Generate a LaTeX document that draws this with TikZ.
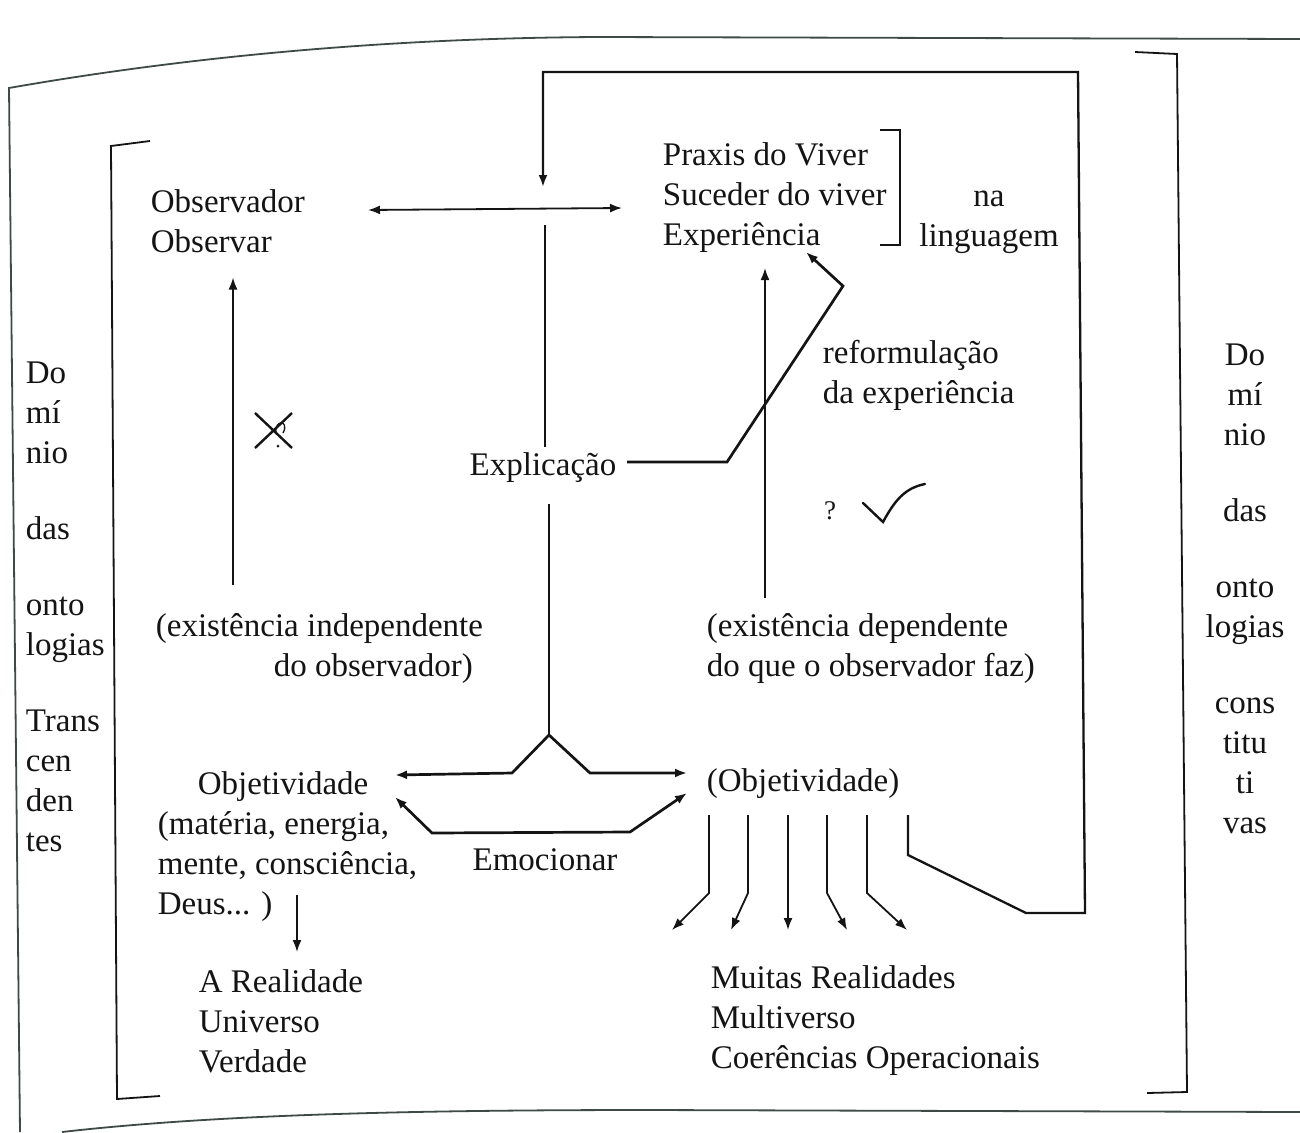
\documentclass[tikz,border=0pt]{standalone}
\usepackage{fontspec}
\setmainfont{Liberation Serif}
\usetikzlibrary{arrows.meta}
\definecolor{Paper}{HTML}{FFFFFF}
\definecolor{Ink}{HTML}{141414}
\definecolor{FrameGrey}{HTML}{3F4A46}

\begin{document}
\begin{tikzpicture}[x=1pt,y=-1pt,>={Latex[length=12pt,width=9pt]},line width=1.8pt,draw=Ink,
  every node/.style={font=\fontsize{33}{40}\selectfont,text=Ink,inner sep=0pt,align=left},
  txt/.style={anchor=west},heavy/.style={line width=2.7pt},col/.style={align=center}]
\useasboundingbox (0,0) rectangle (1300,1132); \fill[Paper] (0,0) rectangle (1300,1132);
% sheet edges and the two big brackets
\draw[FrameGrey,line width=1.8pt] (1300,39)--(600,37) .. controls (380,38) and (180,58) .. (9,88)--(20,1132);
\draw[FrameGrey,line width=1.8pt] (62,1132) .. controls (220,1114) and (420,1110) .. (650,1110)--(1300,1112);
\draw (150,141)--(111,146)--(117,1099)--(160,1096); \draw (1135,52)--(1177,54)--(1187,1092)--(1147,1093);
\draw (880,130)--(900,130)--(900,245)--(880,245);
% texts
\node[txt] (obs) at (150,221){Observador\\Observar};
\node[txt] (praxis) at (662,198){Praxis do Viver\\Suceder do viver\\Experiência};
\node[col] (lang) at (989,222){na\\linguagem};
\node[txt] (reform) at (822,375){reformulação\\da experiência};
\node (expl) at (543,468){Explicação};
\node[font=\fontsize{27}{30}\selectfont] (qm) at (830,511){?};
\node[txt] (indep) at (155,649){(existência independente\\\hspace*{118pt}do observador)};
\node[txt] (dep) at (706,649){(existência dependente\\do que o observador faz)};
\node[txt] (objL) at (157,847){\hspace*{40pt}Objetividade\\(matéria, energia,\\mente, consciência,\\Deus... )};
\node[txt] (objR) at (706,784){(Objetividade)};
\node (emoc) at (545,860){Emocionar};
\node[txt] (realL) at (198,1021){A Realidade\\Universo\\Verdade};
\node[txt] (realR) at (710,1021){Muitas Realidades\\Multiverso\\Coerências Operacionais};
\node[txt] (domL) at (25,607){Do\\mí\\nio\\[36pt]das\\[36pt]onto\\logias\\[36pt]Trans\\cen\\den\\tes};
\node[col] (domR) at (1245,589){Do\\mí\\nio\\[36pt]das\\[36pt]onto\\logias\\[36pt]cons\\titu\\ti\\vas};
% connectors
\coordinate (obsR) at (368,210); \coordinate (praxL) at (622,208); \draw[<->] (obsR)--(praxL);
\coordinate (axisTop) at (545,225); \coordinate (peak) at (549,735);
\draw[shorten >=5pt] (axisTop)--(axisTop|-expl.north); \draw[shorten <=20pt] (expl.south-|peak)--(peak);
\draw[->,heavy] (peak)--(512,773)--(395,775); \draw[->,heavy] (peak)--(590,773)--(687,773);
\draw[<->,heavy] (395,797)--(432,833)--(630,832)--(687,793);
\coordinate (exper) at (806,252); \draw[->,heavy,shorten <=10pt] ([yshift=6pt]expl.east)--(727,462)--(843,286)--(exper);
\coordinate (leftFoot) at (233,585); \draw[->,shorten >=24pt] (leftFoot)--(leftFoot|-obs.south);
\coordinate (rightFoot) at (765,598); \coordinate (rightTop) at (765,268); \draw[->] (rightFoot)--(rightTop);
\coordinate (deusA) at (297,895); \coordinate (deusB) at (297,952); \draw[->] (deusA)--(deusB);
\foreach \x/\dx in {709/-37,748/-17,788/0,827/20,867/40}{\draw[->] (\x,815)--(\x,893)--({\x+\dx},930);}
\coordinate (loopS) at (908,815); \coordinate (loopE) at (543,187);
\draw[->,line width=2.3pt] (loopS)--(908,855)--(1026,913)--(1085,913)--(1078,72)--(543,72)--(loopE);
% marks
\draw[line width=2.4pt] (255,413)--(292,448) (292,413)--(255,448);
\draw[line width=1.3pt] (276,433) .. controls (274,419) and (290,420) .. (283,433); \fill[Ink] (278,446) circle (1.5pt);
\draw[line width=2.4pt,line cap=round] (863,503)--(883,522) .. controls (895,500) and (905,488) .. (925,484);
\end{tikzpicture}
\end{document}
